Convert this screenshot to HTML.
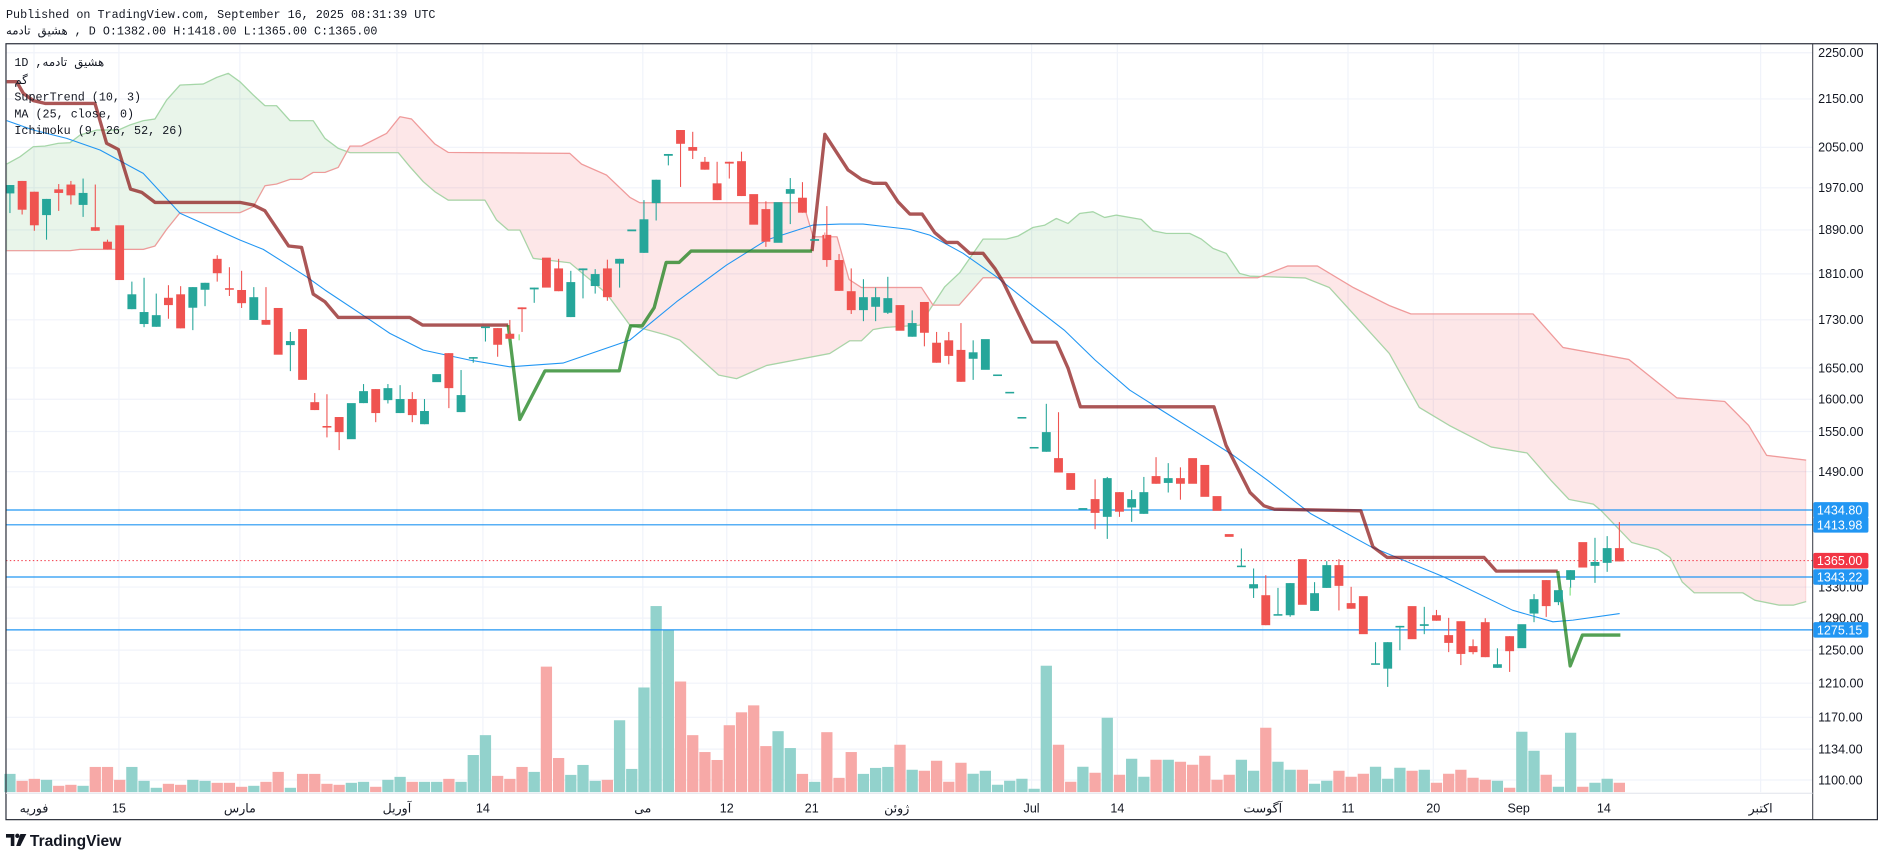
<!DOCTYPE html>
<html><head><meta charset="utf-8">
<style>
html,body{margin:0;padding:0;background:#fff;}
svg{display:block;}
</style></head>
<body>
<svg id="s" xmlns="http://www.w3.org/2000/svg" width="1878" height="858" viewBox="0 0 1568 716" preserveAspectRatio="none">
<rect x="0" y="0" width="1568" height="716" fill="#fff"/>
<g id="grid"></g>
<g id="cloud"></g>
<g id="vol"></g>
<g id="hl"></g>
<g id="ind"></g>
<g id="candles"></g>
<g id="axis"></g>
<text x="5" y="15" font-family="Liberation Mono, monospace" font-size="9.8" fill="#131722">Published on TradingView.com, September 16, 2025 08:31:39 UTC</text>
<text x="5" y="29" font-family="Liberation Mono, DejaVu Sans, monospace" font-size="9.8" fill="#131722">هشیق تادمه , D O:1382.00 H:1418.00 L:1365.00 C:1365.00</text>
<g font-family="Liberation Mono, DejaVu Sans, monospace" font-size="9.8" fill="#131722">
<text x="12" y="55">1D ,هشیق تادمه</text>
<text x="12" y="70">گم</text>
<text x="12" y="84">SuperTrend (10, 3)</text>
<text x="12" y="98">MA (25, close, 0)</text>
<text x="12" y="112">Ichimoku (9, 26, 52, 26)</text>
</g>
<g transform="translate(5,694)">
<path d="M0 2 H7 V12 H4 V5 H0 Z" fill="#131722"/>
<circle cx="9.5" cy="3.5" r="1.8" fill="#131722"/>
<path d="M12 2 H17 L12 12 H8.5 Z" fill="#131722"/>
</g>
<text x="25" y="706" font-family="Liberation Sans, sans-serif" font-size="13" font-weight="bold" fill="#131722">TradingView</text>
</svg>
<script>
var NS="http://www.w3.org/2000/svg";
function el(p,t,a){var e=document.createElementNS(NS,t);for(var k in a)e.setAttribute(k,a[k]);document.getElementById(p).appendChild(e);return e;}
var L=5,R=1513.5,T=36.5,B=661,BB=684;
function Y(p){return 44+(Math.log(2250)-Math.log(p))/0.7157*607;}
el('axis','rect',{x:L,y:T,width:1568-L-0.5,height:BB-T,fill:'none',stroke:'#2a2e39','stroke-width':1});
el('axis','line',{x1:R,y1:T,x2:R,y2:BB,stroke:'#2a2e39','stroke-width':0.8});
el('axis','line',{x1:L,y1:B+1,x2:R,y2:B+1,stroke:'#e0e3eb','stroke-width':0.8});
var prices=[2250,2150,2050,1970,1890,1810,1730,1650,1600,1550,1490,1330,1290,1250,1210,1170,1134,1100];
prices.forEach(function(p){var y=Y(p);
 el('grid','line',{x1:L,y1:y,x2:R,y2:y,stroke:'#f0f3fa','stroke-width':1});
 var t=el('axis','text',{x:1518,y:y+3.6,'font-family':'Liberation Sans, sans-serif','font-size':'10.5',fill:'#131722'});t.textContent=p.toFixed(2);});
var dl=[[28.4,'فوریه'],[99.3,'15'],[200.3,'مارس'],[331.4,'آوریل'],[403.2,'14'],[536.7,'می'],[606.8,'12'],[677.8,'21'],[748.7,'ژوئن'],[861.3,'Jul'],[932.9,'14'],[1054.3,'آگوست'],[1125.5,'11'],[1196.7,'20'],[1268,'Sep'],[1339.1,'14'],[1470,'اکتبر']];
dl.forEach(function(d){el('grid','line',{x1:d[0],y1:T,x2:d[0],y2:B,stroke:'#f0f3fa','stroke-width':1});
 var t=el('axis','text',{x:d[0],y:678,'text-anchor':'middle','font-family':'Liberation Sans, DejaVu Sans, sans-serif','font-size':'10.5',fill:'#131722'});t.textContent=d[1];});
var A=[[5.6,136.9],[16.7,130.8],[27.8,122.4],[37.6,121.9],[48.7,119.6],[58.4,119.1],[66.8,112.7],[80.7,108.5],[98.8,108.5],[108.5,104.3],[119.6,100.7],[129.4,99.3],[139.1,83.5],[150.3,71],[169.7,70.1],[180.9,64.6],[190.6,61.2],[200.3,68.2],[211.5,79.3],[221.2,88.2],[230.9,88.2],[242.1,100.7],[261.5,100.7],[271.3,115.5],[282.4,123.8],[292.2,127.4],[332.5,127.4],[342.2,139.1],[353.4,151.6],[363.1,160],[374.2,167],[404.9,167],[414.6,183.6],[424.3,192],[434.1,192],[445.2,215.6],[475.8,219.3],[506.4,244.9],[525.9,271.3],[556.5,279.6],[567.6,283.8],[600,313],[615,316],[640,305],[692.8,295],[709.5,284.4],[719.2,284.4],[729,275],[738.7,273.3],[767.9,271.3],[788.8,239.3],[801.3,227.6],[820.8,199.5],[840.3,199.5],[850,197],[862.5,189.8],[872.3,187.9],[882,182.3],[891.7,186.5],[901.5,178.1],[912.6,176.7],[922.3,181.5],[932.1,179.5],[952.9,183.1],[962.7,192.6],[973.8,194.8],[993.3,194.8],[1003,199.5],[1012.8,207.3],[1023.9,211.5],[1035,228.2],[1043.4,230.4],[1090,232],[1110,240],[1130,262],[1160,295],[1185,340],[1210,355],[1245,373],[1275,378],[1294.8,400.7],[1310,416.8],[1330.3,420.7],[1337,426.3],[1362.3,452.7],[1384.3,458.6],[1394.4,465.2],[1404.5,485.6],[1414.6,494.7],[1455.1,494.7],[1465.2,500.9],[1485.5,505],[1497.3,505],[1508,502]];
var Bs=[[5.6,209.2],[58.4,209.2],[66.8,208.1],[119.6,208.1],[129.4,205.3],[139.1,191.4],[150.3,177.5],[200.3,177.5],[211.5,172.5],[221.2,155],[230.9,153.6],[242.1,149.7],[251.8,149.7],[261.5,143.9],[271.3,143.9],[282.4,139.7],[292.2,121.9],[301.9,121.9],[322.8,111.3],[333.9,97.4],[343.6,99.3],[363.1,120.2],[374.2,127.2],[475.8,128],[485.5,136.9],[506.4,146.1],[525.9,164.7],[534.2,169.2],[670.6,169.2],[678.9,197.6],[698.9,197.6],[708.9,233.2],[719.2,239.9],[769.3,239.9],[779,254.6],[800.8,254.6],[820.8,231.8],[1050,231.8],[1075,222],[1100,222],[1130,240],[1160,255],[1178,262],[1280,262],[1305,290],[1360,300],[1400,332],[1440,335],[1460,355],[1475,380],[1508,384]];
function interp(P,x){if(x<=P[0][0])return P[0][1];for(var i=1;i<P.length;i++){if(x<=P[i][0]){var a=P[i-1],b=P[i];return a[1]+(b[1]-a[1])*(x-a[0])/(b[0]-a[0]);}}return P[P.length-1][1];}
var runs=[],cur=null;
for(var x=5.6;x<=1508;x+=1){var a=interp(A,x),b=interp(Bs,x),g=a<b;
 if(!cur||cur.g!==g){cur={g:g,p:[]};runs.push(cur);} cur.p.push([x,a,b]);}
runs.forEach(function(r,k){var pts=r.p.map(function(q){return q[0]+','+q[1];});
 for(var i=r.p.length-1;i>=0;i--)pts.push(r.p[i][0]+','+r.p[i][2]);
 el('cloud','polygon',{points:pts.join(' '),fill:r.g?'rgba(76,175,80,0.12)':'rgba(242,54,69,0.12)',stroke:r.g?'rgba(76,175,80,0.12)':'rgba(242,54,69,0.12)','stroke-width':1.2});});
function pl(g,P,c,w,extra){var a={points:P.map(function(q){return q[0]+','+q[1];}).join(' '),fill:'none',stroke:c,'stroke-width':w,'stroke-linejoin':'round'};for(var k in extra)a[k]=extra[k];return el(g,'polyline',a);}
pl('cloud',A,'#a5d6a7',1);pl('cloud',Bs,'#ef9a9a',1);
var X0=8.3,DX=10.18;
var v1=[525,546,540,543,561,558,561,504,504,543,504,546,567,555,558,543,546,552,552,564,561,549,519,567,525,525,555,558,552,549,564,543,534,549,549,549,540,549,468,408,531,540,504,519,201,477,528,498,546,543,363,510,264,18,90,246,408,459,483,378,339,318,441,396,447,525,549,399,537,459,525,507,504];
var c1="grrgrrgrrr"+"gggrrggrrr"+"grrgrrrrgg"+"rggrggrggg"+"rrrgrrgggr"+"gggggrrrrr"+"rrrggrgrrr"+"ggg";
var v2=[438,513,516,486,549,492,525,516,558,546,540,570,201,438,549,504,522,357,528,480,534,483,483,489,498,471,543,528,483,516,387,489,513,513,555,546,516,534,525,504,540,507,516,513,552,525,513,537,543,546,567,399,456,528,564,402,564,552,540,552];
var c2="rgrrrrggggggg"+"rrgrgrggrg"+"rrrrrggrgg"+"rggrrrgggr"+"grrrrrgrgg"+"rggrggr";
var vcol={g:'#92d2cc',r:'#f7a9a7'};
for(var i=0;i<133;i++){var h,c;
 if(i<73){h=(580-v1[i])/3.62;c=c1.charAt(i);}else{h=(580-v2[i-73])/3.594;c=c2.charAt(i-73);}
 if(!vcol[c])c='g';
 var x=X0+i*DX;el('vol','rect',{x:x-4.7,y:B-h,width:9.4,height:h,fill:vcol[c]});}
[1434.8,1413.98,1343.22,1275.15].forEach(function(p){var y=Y(p);el('hl','line',{x1:L,y1:y,x2:R,y2:y,stroke:'#2196f3','stroke-width':1});});
el('hl','line',{x1:L,y1:Y(1365),x2:R,y2:Y(1365),stroke:'#f23645','stroke-width':0.8,'stroke-dasharray':'1.2,2'});
var MA=[[5.6,100.7],[27.8,108.5],[55.7,115.5],[83.5,125.2],[119.6,144.7],[150.3,178],[200.3,200.3],[219.8,208.1],[256,231],[271.3,242],[306,265],[325.5,278.2],[353.4,292.2],[392.3,300.5],[425.7,306.1],[470,303],[525.9,283.8],[564.9,251.8],[606.6,221.2],[640,200.3],[678.9,187.8],[701.2,187],[720.6,187],[759.6,191.4],[776.3,196.2],[804.1,211.4],[832,231],[859.8,253.2],[888.6,275.5],[914.4,300.5],[943.2,325.5],[972,343.7],[1000.7,361.7],[1029.4,379.8],[1058.2,400.7],[1094.1,428.5],[1144.7,456.3],[1205.4,481.4],[1262.8,509.2],[1296.6,518.9],[1313.4,517.5],[1352.3,512]];
pl('ind',MA,'#2196f3',0.9);
var BR1=[[5.6,68.2],[13.9,68.2],[19.5,77.9],[27.8,84],[37.6,86.3],[79.3,86.3],[89,119.6],[98.8,124.7],[109,157.8],[118.3,160.5],[129.4,168.9],[200.3,168.9],[211.5,171.1],[221.2,175.9],[241,205.3],[251.8,206.5],[261.5,245.4],[271.3,251.8],[282.4,264.9],[342.2,264.9],[352.8,271.3],[424.3,271.3]];
var GR1=[[424.3,271.3],[434,350],[455,309.5],[517,309.5],[523,283.8],[526.5,271.9],[536.2,271.9],[546.2,256.8],[556.2,219],[567,219],[577,209.5],[678,209.5]];
var BR2=[[678,209.5],[688.7,112.1],[708.1,141.9],[719.3,149.7],[729,153],[739.6,153],[749.8,168.4],[759.6,178.6],[769.9,178.6],[780.5,194.2],[790.2,202.3],[799.4,202.3],[809.7,211.4],[820.8,211.4],[830.6,224],[837.5,235.2],[862.1,285.5],[882.1,285.5],[891.8,307.4],[902.1,339.5],[1013.6,339.5],[1023.6,371.5],[1043.7,411],[1055.3,422.1],[1063.9,424.9],[1136.2,426.3],[1146.3,456.3],[1158.2,465.2],[1239.1,465.2],[1249.3,476.6],[1300.6,476.6]];
var GR2=[[1300.6,476.6],[1311,555.7],[1321.2,530],[1352.9,530]];
pl('ind',BR1,'rgba(136,14,14,0.7)',2.8);pl('ind',BR2,'rgba(136,14,14,0.7)',2.8);
pl('ind',GR1,'rgba(27,128,27,0.75)',2.8);pl('ind',GR2,'rgba(27,128,27,0.75)',2.8);
var C=[
['g',154.4,161.4,154.4,177.8],['r',151,175,151,179],['r',160,188,160,192.6],['g',166,179.5,166,200],['r',158,161,153.6,176],['r',154,163,151,170.6],['g',161,171,149,181],['r',189.6,192.6,154,192.6],['r',201.7,208,200,208],['r',188,233.7],
['g',245.6,258,235,258],['g',260.4,270.4,231.8,273],['g',263,272.7,245,272.7],['r',248.5,254.6,238,266],['r',245.6,274,238.8,274],['g',239.6,256.8,239.6,275.5],['g',236,241.8,236,255.5],['r',216,228,213,235],['r',240.5,241.5,223,247],['r',242,253,226,257],
['g',248,267,239.6,267],['r',267,271,239.6,271],['r',257,296],['g',284.6,288,277,309.7],['r',274.6,317],['r',335.6,342.2,328,342.2],['r',355.5,356.5,329,365],['r',348,360.6,348,375.6],['g',336.4,366.5],['g',326.4,336.4,320.5,336.4],
['r',324.7,344.7,324.7,352.3],['g',323.9,333.9,320.5,336.7],['g',333,344.7,321.4,344.7],['r',333,346.4,327.2,352.3],['g',343,354,333,354],['g',312.2,318.9],['r',294.7,323.9,294.7,340.6],['g',329.7,343.9,308.8,343.9],['g',298,299,298,302.7],['g',272.5,273.5,272.5,285],
['r',273.8,287.7,273.8,297.7],['r',278.5,282.7,267,282.7],['r',256.5,258,256.5,277],['g',240,241.5,240,252.7],['r',215,240],['r',224,243,216,243],['g',235.4,264.6,226,264.6],['g',224,225.5,224,249],['g',228.7,238.7,224.6,245],['r',224,248,216.7,251],
['g',216,220,216,240],['g',191.5,193],['g',183,211,167,211],['g',150,169.5,150,184],['g',128.5,130,128.5,138],['r',108.5,120,108.5,156],['r',122.7,125.8,110,132.7],['r',135,141.6,131,141.6],['r',153,167,135,167],['r',135,136.5,135,149],
['r',134.5,163.6,126.6,163.6],['r',162,187.5],['r',174.5,201.7,168,206],['g',168.7,202.6],['g',157.8,161.7,148.6,187],['r',165,177.5,152,177.5],['g',199.5,201],['r',196,217,172,222.6],['r',217,242.7,212,242.7],['r',243,258.8,224,262],
['g',248,258.8,233,268],['g',248,256,240,268],['g',248.8,261,231,262],['r',254.6,276],['g',269.6,281,259,281],['r',252,277.7,252,289],['r',286,302.7,277,302.7],['r',284,297,277,304],['r',292,318.6,269.6,318.6],['g',294,299.4,284,317],
['g',283,308.6],['g',312.5,313.5],['g',327,328],['g',348,349],['g',373,374],['g',360.6,377,337,377],['r',382.3,394.3,344,394.3],['r',394.8,408.8],['g',424,425],['r',416.5,428,400,441.6],
['g',399,431.3,398,449.7],['r',410.7,427,410.7,431.3],['g',416.5,423.5,409,435.5],['g',410.7,428.8,398,428.8],['r',397.3,403.7,381.5,403.7],['g',399,403,386.5,411],['r',399,403.7,390,417],['r',382.3,403.7],['r',388,414.6],['r',414,426.3],
['r',445.7,448],['g',472,473,457.7,473],['g',487.5,491,474.4,499],['r',496.7,521.7,480,521.7],['g',512.5,513.5,490.6,513.5],['g',486.6,513.4,486.6,514.7],['r',466.6,504.7],['g',495,509.8,485.8,509.8],['g',471.6,490.6,468.3,490.6],['r',471.6,488.9,466.6,509.4],
['r',503.3,508,489.7,508],['r',497.5,529.2],['g',553.5,554.5,535.9,554.5],['g',535.9,558,535.9,573.2],['g',522.3,523.3,522.3,542.6],['r',505.8,533.4],['g',520.9,522.3,506.4,529.2],['r',513.4,518,509,518],['r',530,536.5,515.6,544.2],['r',518.4,545.7,518.4,555],
['r',539.2,544.2,533.6,546],['r',519.2,548.4,515.9,548.4],['g',554.3,557.3,541,557.3],['r',530.9,543.4,530.9,560.7],['g',520.9,540.9],['g',500,512,495.8,519.2],['r',484.1,505.8,484.1,514.8],['g',492.5,502.5,492.5,505],['g',475.8,483.9,475.8,490.6],['r',452.4,473.6],
['g',469,472.2,448.8,486.4],['g',457.4,469.7,447.4,477.2],['r',457.4,468.5,435.7,468.5]];
var cc={g:'#26a69a',r:'#ef5350'};
C.forEach(function(d,i){var x=X0+i*DX,col=cc[d[0]];var wt=d.length>3?d[3]:d[1],wb=d.length>3?d[4]:d[2];
 if(wt<d[1]||wb>d[2])el('candles','rect',{x:x-0.45,y:wt,width:0.9,height:wb-wt,fill:col});
 var h=Math.max(d[2]-d[1],1.3);el('candles','rect',{x:x-3.7,y:d[1],width:7.4,height:h,fill:col});});
el('candles','rect',{x:1310.5,y:490,width:0.9,height:7,fill:'#7be27b'});
el('candles','rect',{x:433,y:279,width:0.9,height:5,fill:'#7be27b'});
el('candles','rect',{x:688,y:194,width:1.2,height:5,fill:'#f7a9a7'});
function box(p,c,txt){var y=Y(p);el('axis','rect',{x:R+0.5,y:y-6.5,width:46,height:13,fill:c,rx:1.5});
 var t=el('axis','text',{x:R+3.5,y:y+3.8,'font-family':'Liberation Sans, sans-serif','font-size':'10.5',fill:'#fff'});t.textContent=txt;}
box(1434.8,'#2196f3','1434.80');box(1413.98,'#2196f3','1413.98');box(1365,'#f23645','1365.00');box(1343.22,'#2196f3','1343.22');box(1275.15,'#2196f3','1275.15');
</script>
</body></html>
